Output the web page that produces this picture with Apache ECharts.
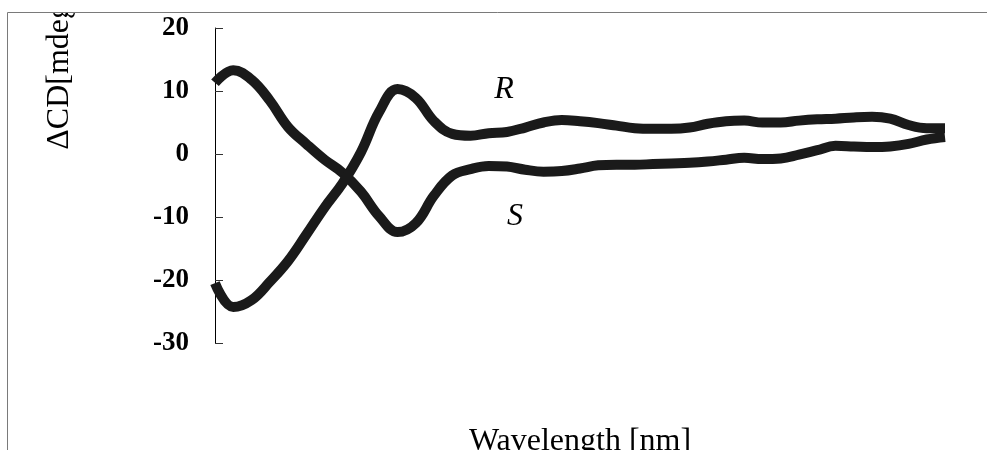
<!DOCTYPE html>
<html>
<head>
<meta charset="utf-8">
<script src="https://cdn.jsdelivr.net/npm/echarts@6/dist/echarts.min.js"></script>
<style>html,body{margin:0;padding:0;background:#fff}#c{width:987px;height:450px}</style>
</head>
<body>
<div id="c"></div>
<script>
const wavelength = [200,205,210,215,220,225,230,235,240,245,250,255,260,265,270,275,280,285,290,295,300,305,310,315,320,325,330,335,340,345,350,355,360,365,370,375,380,385,390,395,400];
const seriesS = [11.3,13.3,11.8,8.5,4.3,1.6,-0.9,-3.0,-6.0,-9.9,-12.4,-11.0,-6.6,-3.4,-2.4,-1.9,-2.0,-2.5,-2.8,-2.7,-2.3,-1.8,-1.7,-1.7,-1.6,-1.5,-1.4,-1.2,-0.9,-0.6,-0.8,-0.7,-0.1,0.6,1.3,1.2,1.1,1.2,1.6,2.3,2.7];
const seriesR = [-20.5,-24.3,-23.2,-20.3,-17.0,-12.8,-8.5,-4.6,0.3,6.7,10.3,8.9,5.2,3.2,2.9,3.3,3.5,4.2,5.0,5.4,5.2,4.9,4.5,4.1,4.0,4.0,4.2,4.8,5.2,5.3,5.0,5.0,5.3,5.5,5.6,5.8,5.9,5.6,4.6,4.1,4.1];
const yTicks = {min: -30, max: 20, interval: 10};
const yTitle = 'ΔCD[mdeg]';
const xTitle = 'Wavelength [nm]';

const chart = echarts.init(document.getElementById('c'), null, {renderer: 'canvas'});
const serif = '"Liberation Serif", "Times New Roman", serif';
const lineStyle = {color: '#1a1a1a', width: 10, cap: 'butt'};
chart.setOption({
  animation: false,
  backgroundColor: '#fff',
  grid: {left: 215, right: 42, top: 28, bottom: 107, containLabel: false, outerBoundsMode: 'none'},
  xAxis: {
    type: 'value', min: 200, max: 400,
    axisLine: {show: false}, axisTick: {show: false}, axisLabel: {show: false}, splitLine: {show: false},
    name: xTitle, nameLocation: 'middle', nameGap: 83,
    nameTextStyle: {fontFamily: serif, fontSize: 32, color: '#000'}
  },
  yAxis: {
    type: 'value', min: yTicks.min, max: yTicks.max, interval: yTicks.interval,
    axisLine: {show: true, lineStyle: {color: '#000', width: 1}},
    axisTick: {show: true, inside: true, length: 8, lineStyle: {color: '#333'}},
    axisLabel: {fontFamily: serif, fontSize: 27, fontWeight: 'bold', color: '#000', margin: 26},
    splitLine: {show: false}
  },
  series: [
    {name: 'S', type: 'line', smooth: 0.4, symbol: 'none', lineStyle: lineStyle,
     data: wavelength.map((w, i) => [w, seriesS[i]])},
    {name: 'R', type: 'line', smooth: 0.4, symbol: 'none', lineStyle: lineStyle,
     data: wavelength.map((w, i) => [w, seriesR[i]])}
  ],
  graphic: [
    {type: 'text', x: 60, y: 71, rotation: Math.PI / 2, z: 10,
     style: {text: yTitle, fontFamily: serif, fontSize: 32, fill: '#000', textAlign: 'center', textVerticalAlign: 'middle'}},
    {type: 'text', x: 504, y: 90, z: 10,
     style: {text: 'R', fontFamily: serif, fontSize: 32, fontStyle: 'italic', fill: '#000', textAlign: 'center', textVerticalAlign: 'middle'}},
    {type: 'text', x: 515, y: 217, z: 10,
     style: {text: 'S', fontFamily: serif, fontSize: 32, fontStyle: 'italic', fill: '#000', textAlign: 'center', textVerticalAlign: 'middle'}},
    {type: 'rect', z: 100, shape: {x: 0, y: 0, width: 987, height: 12}, style: {fill: '#fff'}},
    {type: 'rect', z: 100, shape: {x: 0, y: 0, width: 7, height: 450}, style: {fill: '#fff'}},
    {type: 'rect', z: 101, shape: {x: 7.5, y: 12.5, width: 1200, height: 800}, style: {fill: 'none', stroke: '#7a7a7a', lineWidth: 1}}
  ]
});
</script>
</body>
</html>
